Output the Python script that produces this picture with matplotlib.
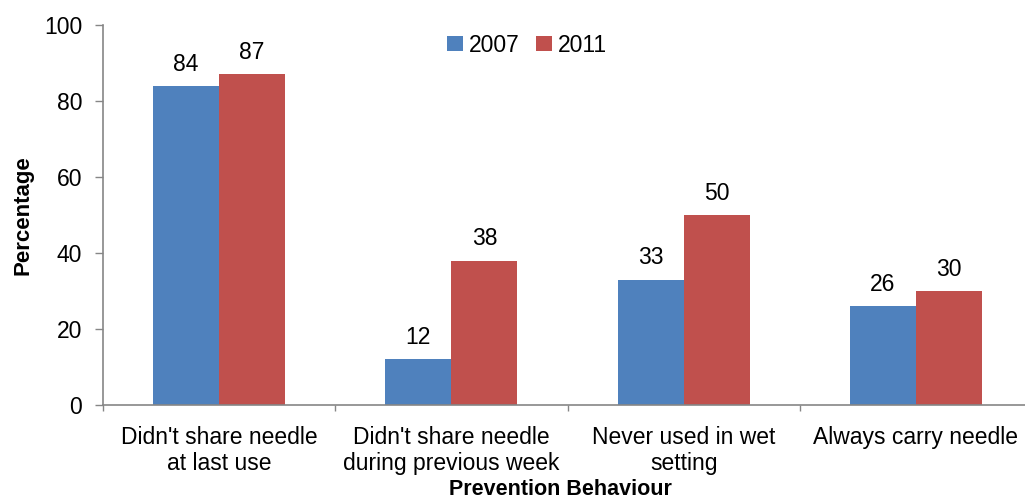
import matplotlib
matplotlib.use("Agg")
import matplotlib.pyplot as plt
import numpy as np

categories = ["Didn't share needle\nat last use", "Didn't share needle\nduring previous week",
              "Never used in wet\nsetting", "Always carry needle"]
series_names = ["2007", "2011"]
values_2007 = [84, 12, 33, 26]
values_2011 = [87, 38, 50, 30]
colors = ["#4F81BD", "#C0504D"]

plt.rcParams['font.family'] = ['Liberation Sans', 'DejaVu Sans']
FS = 16.5

W, H = 1025, 504
fig = plt.figure(figsize=(W / 100, H / 100), dpi=100)
ax = fig.add_axes([103 / W, 1 - 405 / H, 929 / W, 380 / H])

x = np.arange(len(categories))
w = 0.284
b1 = ax.bar(x - w/2, values_2007, w, color=colors[0], label=series_names[0])
b2 = ax.bar(x + w/2, values_2011, w, color=colors[1], label=series_names[1])
for bars, vals in ((b1, values_2007), (b2, values_2011)):
    for r, v in zip(bars, vals):
        ax.text(r.get_x() + r.get_width()/2, v + 4, str(v), ha='center', va='baseline', fontsize=FS)

ax.set_xlim(-0.5, len(categories) - 0.5)
ax.set_ylim(0, 100)
ax.set_yticks(range(0, 101, 20))
ax.tick_params(axis='y', labelsize=FS, length=6, width=1, direction='out', color='#868686', pad=9)
ax.set_xticks(np.arange(-0.5, len(categories), 1.0))
ax.set_xticklabels([])
ax.tick_params(axis='x', length=4.5, width=1, direction='out', color='#868686')
ax.set_xticks(x, minor=True)
ax.set_xticklabels(categories, minor=True, fontsize=FS, linespacing=1.15)
ax.tick_params(axis='x', which='minor', length=0, pad=15)
for s in ['top', 'right']:
    ax.spines[s].set_visible(False)
for s in ['left', 'bottom']:
    ax.spines[s].set_color('#868686')
    ax.spines[s].set_linewidth(1.2)

ax.set_ylabel("Percentage", fontsize=16, fontweight='bold')
ax.yaxis.set_label_coords(-0.0753, 0.5)
ax.set_xlabel("Prevention Behaviour", fontsize=15.5, fontweight='bold')
ax.xaxis.set_label_coords(0.492, -0.196)

ax.legend(loc='center', bbox_to_anchor=(527 / W, 1 - 45 / H), bbox_transform=fig.transFigure,
          ncol=2, frameon=False, fontsize=FS, borderpad=0, borderaxespad=0,
          handlelength=0.68, handleheight=0.68, handletextpad=0.25, columnspacing=0.75)

fig.savefig("out.png", dpi=100)
